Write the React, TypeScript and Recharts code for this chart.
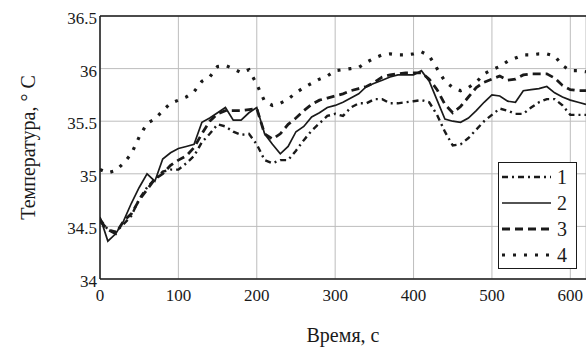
import { LineChart, Line, XAxis, YAxis, CartesianGrid, ReferenceLine } from 'recharts';

const TIME = [
  0, 10, 20, 30, 40, 50, 60, 70, 80, 90, 100, 110, 120, 130, 140, 150, 160, 170, 180, 190, 200,
  210, 220, 230, 240, 250, 260, 270, 280, 290, 300, 310, 320, 330, 340, 350, 360, 370, 380, 390, 400,
  410, 420, 430, 440, 450, 460, 470, 480, 490, 500, 510, 520, 530, 540, 550, 560, 570, 580, 590, 600,
  610, 620,
];

const S1 = [
  34.57, 34.47, 34.45, 34.52, 34.6, 34.76, 34.87, 34.95, 35.02, 35.04, 35.04, 35.1, 35.17, 35.3, 35.38, 35.47, 35.45, 35.4, 35.37, 35.38, 35.28,
  35.13, 35.1, 35.13, 35.13, 35.22, 35.32, 35.41, 35.48, 35.55, 35.57, 35.55, 35.63, 35.67, 35.67, 35.71, 35.71, 35.67, 35.67, 35.68, 35.69,
  35.7, 35.68, 35.56, 35.4, 35.27, 35.28, 35.34, 35.42, 35.5, 35.56, 35.62, 35.6, 35.57, 35.57, 35.63, 35.68, 35.71, 35.71, 35.65, 35.56,
  35.56, 35.56,
];

const S2 = [
  34.59, 34.36, 34.43, 34.55, 34.72, 34.87, 35.0, 34.93, 35.14, 35.2, 35.24, 35.26, 35.28, 35.49, 35.53, 35.58, 35.63, 35.51, 35.51, 35.58, 35.63,
  35.38, 35.28, 35.19, 35.26, 35.4, 35.45, 35.54, 35.58, 35.63, 35.65, 35.68, 35.72, 35.76, 35.83, 35.86, 35.89, 35.92, 35.94, 35.94, 35.94,
  35.98, 35.88, 35.7, 35.52, 35.5, 35.49, 35.53, 35.6, 35.68, 35.75, 35.74, 35.69, 35.68, 35.79, 35.8, 35.81, 35.83, 35.77, 35.73, 35.7,
  35.68, 35.66,
];

const S3 = [
  34.55, 34.47, 34.43, 34.55, 34.62, 34.75, 34.85, 34.95, 35.0, 35.08, 35.13, 35.17, 35.25, 35.38, 35.5, 35.57, 35.6, 35.6, 35.6, 35.61, 35.62,
  35.38, 35.33, 35.38, 35.47, 35.53, 35.6, 35.66, 35.7, 35.72, 35.74, 35.76, 35.79, 35.81, 35.83, 35.87, 35.92, 35.94, 35.95, 35.96, 35.96,
  35.96, 35.9, 35.8, 35.66, 35.58, 35.64, 35.73, 35.82, 35.87, 35.9, 35.93, 35.89, 35.9, 35.94, 35.95, 35.95, 35.95, 35.91, 35.84, 35.8,
  35.79, 35.79,
];

const S4 = [
  35.04, 35.01, 35.03, 35.1, 35.19, 35.35, 35.48, 35.52, 35.6, 35.67, 35.7, 35.73, 35.78, 35.88, 35.92, 36.02, 36.03, 36.0, 35.96, 35.99, 35.85,
  35.69, 35.65, 35.67, 35.71, 35.77, 35.82, 35.86, 35.9, 35.93, 35.98, 35.99, 36.0, 36.01, 36.06, 36.1, 36.13, 36.14, 36.13, 36.13, 36.14,
  36.16, 36.12, 36.0, 35.88, 35.82, 35.79, 35.82, 35.87, 35.95, 35.99, 36.02, 36.07, 36.1, 36.13, 36.13, 36.14, 36.14, 36.12, 36.03, 35.98,
  35.98, 35.97,
];

const X_TICKS = [0, 100, 200, 300, 400, 500, 600];
const Y_TICKS = [34, 34.5, 35, 35.5, 36, 36.5];
const NAMES = ['1', '2', '3', '4'];

const data = TIME.map((t, i) => ({ t, s1: S1[i], s2: S2[i], s3: S3[i], s4: S4[i] }));

const INK = '#1a1a1a';
const FONT = '"Liberation Serif", "DejaVu Serif", serif';

const SERIES = [
  { key: 's1', dash: '6 4 2 4', width: 2.4 },
  { key: 's2', dash: undefined, width: 1.7 },
  { key: 's3', dash: '8 5', width: 2.8 },
  { key: 's4', dash: '3 8', width: 3.2 },
];

function LegendBox() {
  return (
    <div
      style={{
        position: 'absolute',
        left: 498,
        top: 162,
        width: 77,
        height: 105,
        border: `1px solid ${INK}`,
        background: '#fff',
        fontFamily: FONT,
      }}
    >
      {SERIES.map((s, i) => (
        <div key={s.key} style={{ position: 'absolute', left: 0, top: 2 + i * 26, height: 24, display: 'flex', alignItems: 'center' }}>
          <svg width={54} height={10} style={{ display: 'block' }}>
            <line x1={3} y1={5} x2={52} y2={5} stroke={INK} strokeWidth={s.width} strokeDasharray={s.dash} />
          </svg>
          <span style={{ fontSize: 20, color: INK, marginLeft: 4, lineHeight: '20px' }}>{NAMES[i]}</span>
        </div>
      ))}
    </div>
  );
}

export default function App() {
  return (
    <div style={{ position: 'absolute', left: 0, top: 0, width: 586, height: 347, background: '#fff', overflow: 'hidden' }}>
      <LineChart width={586} height={347} data={data} margin={{ top: 16, right: 0, left: 0, bottom: 0 }}>
        <CartesianGrid stroke="#bdbdbd" strokeWidth={1} />
        <XAxis
          dataKey="t"
          type="number"
          domain={[0, 620]}
          ticks={X_TICKS}
          allowDataOverflow
          height={68}
          tickSize={0}
          tickMargin={10}
          axisLine={{ stroke: INK, strokeWidth: 1.5 }}
          tick={{ fill: INK, fontSize: 17, fontFamily: FONT }}
          label={{ value: 'Время, с', position: 'insideBottom', offset: 5, fill: INK, fontSize: 20, fontFamily: FONT }}
        />
        <YAxis
          type="number"
          domain={[34, 36.5]}
          ticks={Y_TICKS}
          allowDataOverflow
          width={100}
          tickSize={0}
          tickMargin={3}
          axisLine={{ stroke: INK, strokeWidth: 1.5 }}
          tick={{ fill: INK, fontSize: 17, fontFamily: FONT, dy: 2 }}
          label={{ value: 'Температура, ° C', angle: -90, position: 'center', dx: -22, fill: INK, fontSize: 20, fontFamily: FONT }}
        />
        <ReferenceLine y={36.5} stroke={INK} strokeWidth={1.5} />
        {SERIES.map((s, i) => (
          <Line
            key={s.key}
            dataKey={s.key}
            name={NAMES[i]}
            type="linear"
            stroke={INK}
            strokeWidth={s.width}
            strokeDasharray={s.dash}
            dot={false}
            activeDot={false}
            isAnimationActive={false}
          />
        ))}
      </LineChart>
      <LegendBox />
    </div>
  );
}
